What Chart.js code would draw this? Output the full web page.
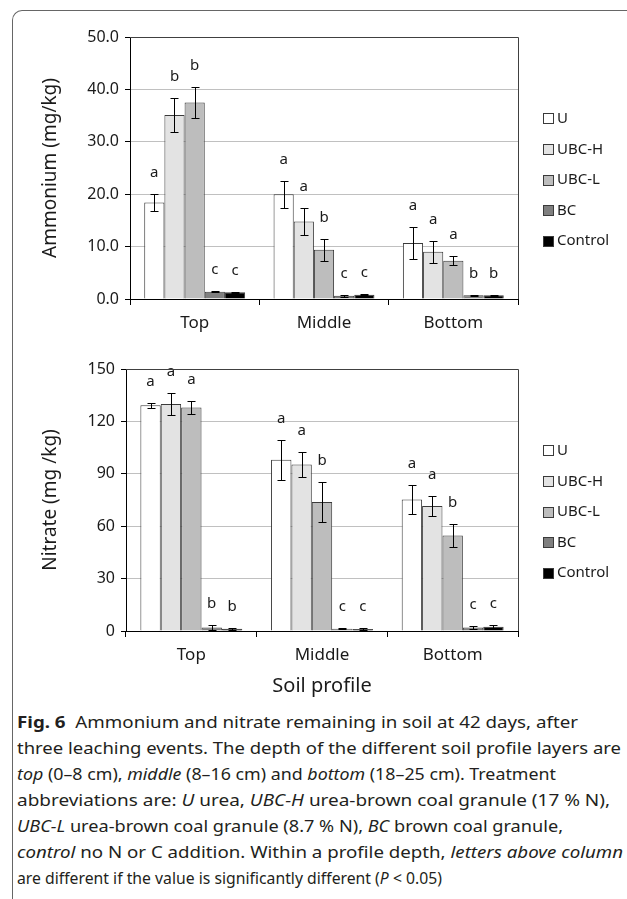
<!DOCTYPE html>
<html>
<head>
<meta charset="utf-8">
<script src="https://cdn.jsdelivr.net/npm/chart.js@4"></script>
<style>
  body { margin: 0; background: #fff; width: 627px; height: 899px; position: relative; overflow: hidden; font-family: "Noto Sans", sans-serif; }
  .frame { position: absolute; left: 12px; top: 10px; width: 700px; height: 950px; border-left: 1.5px solid #666; border-top: 1.5px solid #666; border-top-left-radius: 10px; }
  canvas { position: absolute; left: 0; }
  #c1 { top: 0; }
  #c2 { top: 340px; }
  .caption { position: absolute; left: 17px; top: 709px; font-size: 16px; line-height: 26px; color: #231f20; }
  .caption div { white-space: nowrap; transform-origin: left center; width: max-content; }
  .caption b { font-weight: 700; }
</style>
</head>
<body>
<div class="frame"></div>
<canvas id="c1" width="627" height="340"></canvas>
<canvas id="c2" width="627" height="358"></canvas>
<div class="caption">
  <div data-w="561"><b>Fig. 6</b>&nbsp; Ammonium and nitrate remaining in soil at 42 days, after</div>
  <div data-w="604">three leaching events. The depth of the different soil profile layers are</div>
  <div data-w="539"><i>top</i> (0–8 cm), <i>middle</i> (8–16 cm) and <i>bottom</i> (18–25 cm). Treatment</div>
  <div data-w="593">abbreviations are: <i>U</i> urea, <i>UBC-H</i> urea-brown coal granule (17 % N),</div>
  <div data-w="546"><i>UBC-L</i> urea-brown coal granule (8.7 % N), <i>BC</i> brown coal granule,</div>
  <div data-w="606"><i>control</i> no N or C addition. Within a profile depth, <i>letters above column</i></div>
  <div data-w="425">are different if the value is significantly different (<i>P</i> &lt; 0.05)</div>
</div>
<script>
// categories and treatments
const profiles = ["Top", "Middle", "Bottom"];
const treatments = ["U", "UBC-H", "UBC-L", "BC", "Control"];
const fills = ["#ffffff", "#e3e3e3", "#bdbdbd", "#7f7f7f", "#000000"];

// ammonium (mg/kg), one array per treatment: Top, Middle, Bottom
const nh4U = [18.4, 20.0, 10.7];
const nh4UBCH = [35.1, 14.8, 9.0];
const nh4UBCL = [37.5, 9.4, 7.3];
const nh4BC = [1.4, 0.6, 0.7];
const nh4Control = [1.3, 0.8, 0.7];
const nh4ErrU = [1.6, 2.6, 3.0];
const nh4ErrUBCH = [3.2, 2.5, 2.1];
const nh4ErrUBCL = [2.9, 2.1, 0.9];
const nh4ErrBC = [0.1, 0.2, 0.1];
const nh4ErrControl = [0.1, 0.1, 0.1];
const nh4LetU = ["a", "a", "a"];
const nh4LetUBCH = ["b", "a", "a"];
const nh4LetUBCL = ["b", "b", "a"];
const nh4LetBC = ["c", "c", "b"];
const nh4LetControl = ["c", "c", "b"];
const nh4Ticks = [0, 10, 20, 30, 40, 50];

// nitrate (mg/kg)
const no3U = [129.2, 98.0, 75.3];
const no3UBCH = [129.9, 95.3, 71.6];
const no3UBCL = [128.0, 73.9, 54.7];
const no3BC = [2.0, 1.3, 2.0];
const no3Control = [1.3, 1.2, 2.5];
const no3ErrU = [1.4, 11.5, 8.4];
const no3ErrUBCH = [6.2, 7.0, 5.5];
const no3ErrUBCL = [3.5, 11.5, 6.5];
const no3ErrBC = [1.5, 0.4, 1.0];
const no3ErrControl = [0.5, 0.4, 1.0];
const no3LetU = ["a", "a", "a"];
const no3LetUBCH = ["a", "a", "a"];
const no3LetUBCL = ["a", "b", "b"];
const no3LetBC = ["b", "c", "c"];
const no3LetControl = ["b", "c", "c"];
const no3Ticks = [0, 30, 60, 90, 120, 150];

Chart.defaults.font.family = "'Noto Sans', sans-serif";
Chart.defaults.color = "#1a1a1a";

function makeSets(values, errs, letters) {
  return treatments.map((t, i) => ({
    label: t,
    data: values[i],
    errors: errs[i],
    letters: letters[i],
    backgroundColor: fills[i],
    borderColor: "#3a3a3a",
    borderWidth: 1,
    borderSkipped: "bottom",
    categoryPercentage: 0.78,
    barPercentage: 1.0,
  }));
}

// error bars and significance letters
const errorBars = {
  id: "errorBars",
  afterDatasetsDraw(chart) {
    const ctx = chart.ctx;
    const y = chart.scales.y;
    ctx.save();
    chart.data.datasets.forEach((ds, i) => {
      chart.getDatasetMeta(i).data.forEach((bar, j) => {
        const v = ds.data[j];
        const e = ds.errors[j];
        const top = Math.round(y.getPixelForValue(v + e)) + 0.5;
        const bot = Math.round(y.getPixelForValue(v - e)) + 0.5;
        const x = Math.round(bar.x) + 0.5;
        ctx.strokeStyle = "#000";
        ctx.lineWidth = 1;
        ctx.beginPath();
        ctx.moveTo(x, top); ctx.lineTo(x, bot);
        ctx.moveTo(x - 4, top); ctx.lineTo(x + 4, top);
        ctx.moveTo(x - 4, bot); ctx.lineTo(x + 4, bot);
        ctx.stroke();
        ctx.fillStyle = "#1a1a1a";
        ctx.font = "15px 'Noto Sans'";
        ctx.textAlign = "center";
        ctx.textBaseline = "middle";
        ctx.fillText(ds.letters[j], bar.x, top - 22);
      });
    });
    ctx.restore();
  },
};

// top and right edges of the plot box
const plotFrame = {
  id: "plotFrame",
  afterDraw(chart) {
    const { ctx, chartArea: a } = chart;
    ctx.save();
    ctx.strokeStyle = "#404040";
    ctx.lineWidth = 1;
    ctx.beginPath();
    ctx.moveTo(Math.round(a.left), Math.round(a.top) + 0.5);
    ctx.lineTo(Math.round(a.right) + 0.5, Math.round(a.top) + 0.5);
    ctx.lineTo(Math.round(a.right) + 0.5, Math.round(a.bottom));
    ctx.stroke();
    ctx.restore();
  },
};

// legend on the right, square swatches
const sideLegend = {
  id: "sideLegend",
  afterDraw(chart) {
    const { ctx, chartArea: a } = chart;
    const n = chart.data.datasets.length;
    const step = 30.6;
    const mid = (a.top + a.bottom) / 2 + 12;
    ctx.save();
    ctx.font = "15px 'Noto Sans'";
    ctx.textBaseline = "middle";
    ctx.textAlign = "left";
    chart.data.datasets.forEach((ds, i) => {
      const cy = mid + (i - (n - 1) / 2) * step;
      const bx = a.right + 25;
      ctx.fillStyle = ds.backgroundColor;
      ctx.fillRect(bx, Math.round(cy - 5.5), 11, 11);
      ctx.strokeStyle = "#3a3a3a";
      ctx.strokeRect(bx + 0.5, Math.round(cy - 5.5) + 0.5, 10, 10);
      ctx.fillStyle = "#1a1a1a";
      ctx.fillText(ds.label, bx + 14, cy);
    });
    ctx.restore();
  },
};

function makeChart(id, sets, ticks, title, decimals, axisLeft, topPad, areaHeight, xTitle) {
  const c = document.getElementById(id);
  const padLeft = 39;
  return new Chart(c, {
    type: "bar",
    data: { labels: profiles, datasets: sets },
    options: {
      responsive: false,
      devicePixelRatio: 1,
      animation: false,
      layout: { padding: { left: padLeft, right: 109, top: topPad, bottom: 0 } },
      plugins: { legend: { display: false }, tooltip: { enabled: false } },
      scales: {
        x: {
          offset: true,
          grid: { offset: true, drawOnChartArea: false, tickLength: 6, color: "#000" },
          border: { color: "#000" },
          ticks: { padding: 8, font: { size: 17 }, color: "#1a1a1a" },
          title: xTitle
            ? { display: true, text: xTitle, font: { size: 20 }, color: "#1a1a1a", padding: { top: 6, bottom: 0 } }
            : { display: false },
          afterFit: (s) => { s.height = c.height - topPad - areaHeight; },
        },
        y: {
          min: ticks[0],
          max: ticks[ticks.length - 1],
          afterBuildTicks: (s) => { s.ticks = ticks.map((v) => ({ value: v })); },
          grid: { color: "#c0c0c0", tickColor: "#000", tickLength: 5 },
          border: { color: "#000" },
          ticks: { padding: 6, font: { size: 16 }, color: "#1a1a1a", callback: (v) => v.toFixed(decimals) },
          title: { display: true, text: title, font: { size: 19 }, color: "#1a1a1a", padding: { top: 0, bottom: 0 } },
          afterFit: (s) => { s.width = axisLeft - padLeft; },
        },
      },
    },
    plugins: [errorBars, plotFrame, sideLegend],
  });
}

makeChart("c1",
  makeSets([nh4U, nh4UBCH, nh4UBCL, nh4BC, nh4Control],
    [nh4ErrU, nh4ErrUBCH, nh4ErrUBCL, nh4ErrBC, nh4ErrControl],
    [nh4LetU, nh4LetUBCH, nh4LetUBCL, nh4LetBC, nh4LetControl]),
  nh4Ticks, "Ammonium (mg/kg)", 1, 130, 37, 262, null);

makeChart("c2",
  makeSets([no3U, no3UBCH, no3UBCL, no3BC, no3Control],
    [no3ErrU, no3ErrUBCH, no3ErrUBCL, no3ErrBC, no3ErrControl],
    [no3LetU, no3LetUBCH, no3LetUBCL, no3LetBC, no3LetControl]),
  no3Ticks, "Nitrate (mg /kg)", 0, 126, 29, 262, "Soil profile");

// fit each caption line to its width in the figure
document.querySelectorAll(".caption div").forEach((d) => {
  const w = d.getBoundingClientRect().width;
  d.style.transform = "scaleX(" + (+d.dataset.w / w) + ")";
});
</script>
</body>
</html>
